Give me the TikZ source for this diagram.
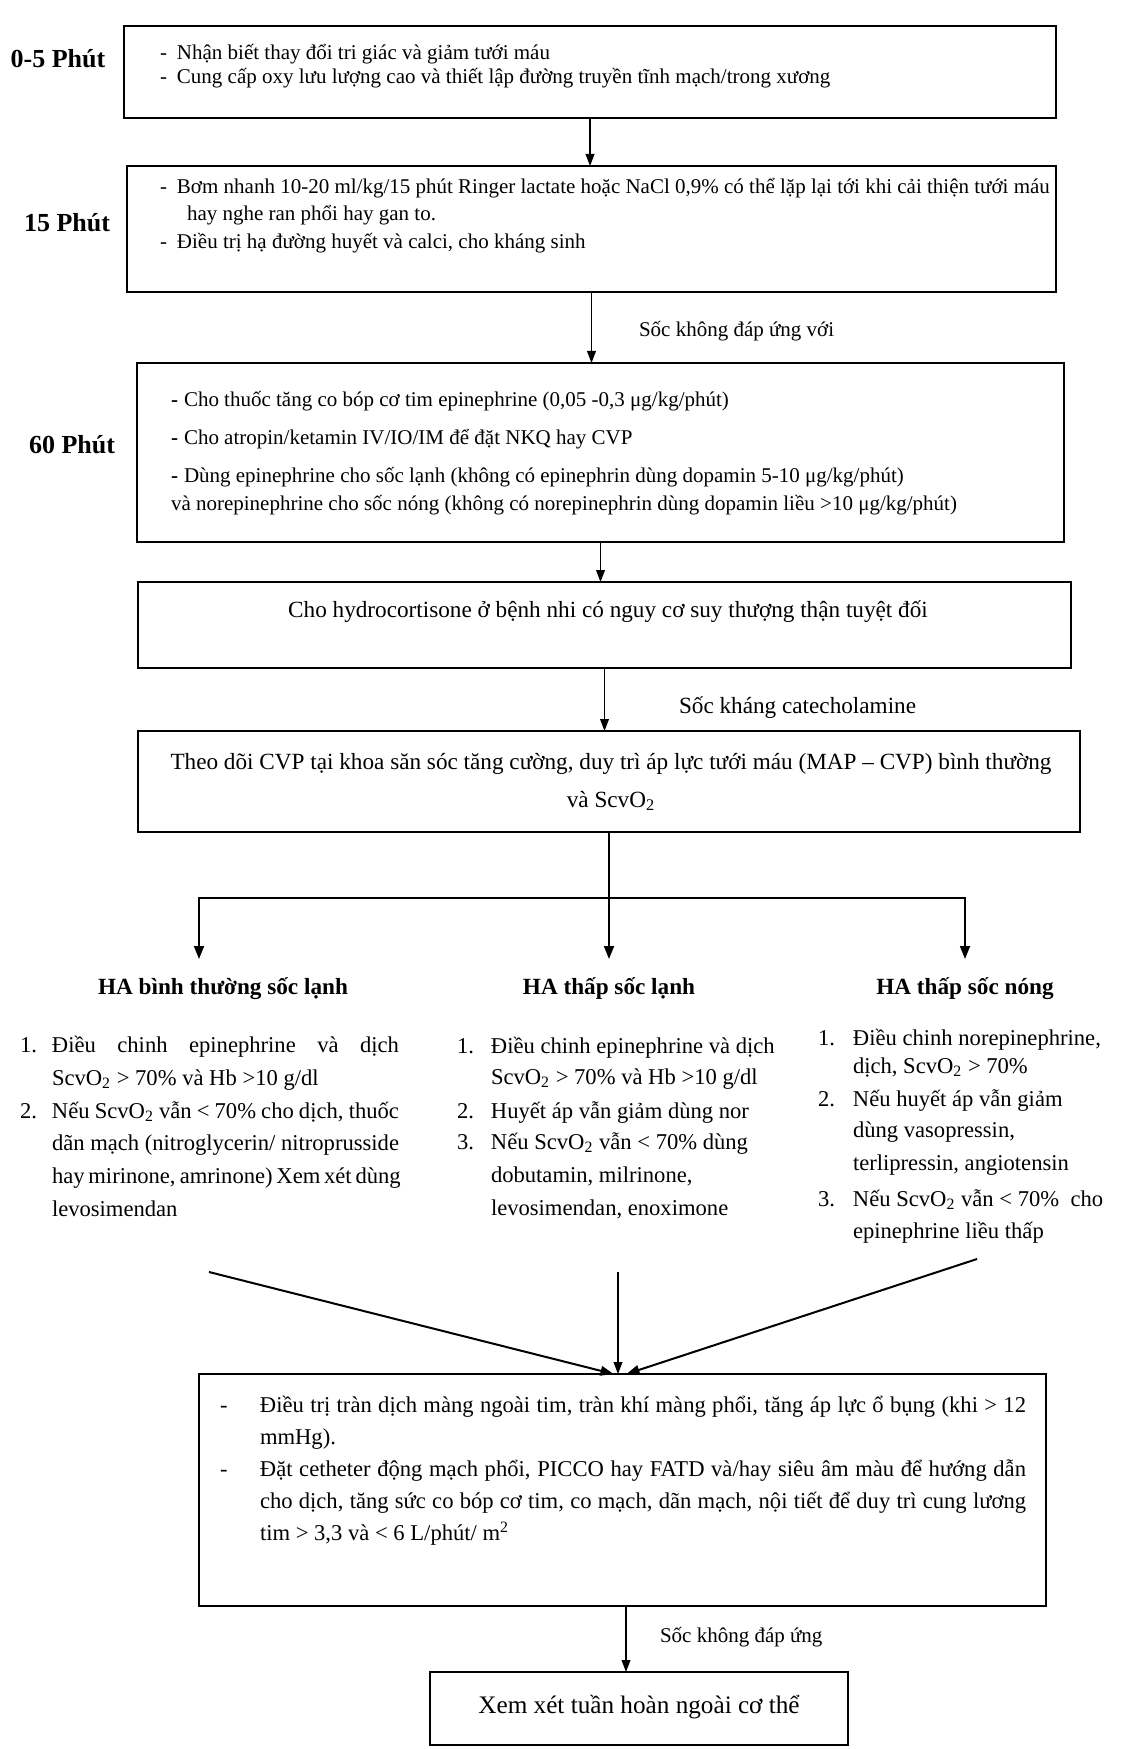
\documentclass[tikz,border=0pt]{standalone}
\usepackage{fontspec}
\setmainfont{Liberation Serif}
\usetikzlibrary{arrows.meta,fit,calc}
\newcommand\scvo{ScvO\textsubscript{2}}
\begin{document}
\begin{tikzpicture}[x=0.5pt,y=-0.5pt,
  every node/.style={inner sep=0pt, outer sep=0pt},
  box/.style={draw, line width=1.1pt},
  lab/.style={font=\fontsize{13}{15}\selectfont\bfseries},
  sm/.style={font=\fontsize{10.5}{12}\selectfont, anchor=base west},
  md/.style={font=\fontsize{11.3}{13}\selectfont, anchor=base west},
  mdc/.style={font=\fontsize{11.6}{14}\selectfont},
  hd/.style={font=\fontsize{11.6}{14}\selectfont\bfseries, anchor=base},
  big/.style={font=\fontsize{12.6}{15}\selectfont},
  arr/.style={-{Triangle[length=6pt,width=4.4pt]}, line width=0.6pt},
  arrb/.style={{Triangle[length=6.5pt,width=5pt]}-{Triangle[length=6.5pt,width=5pt]}, line width=0.9pt},
  arrc/.style={-{Triangle[length=6.5pt,width=5pt]}, line width=0.9pt},
  arrm/.style={-{Triangle[length=6.5pt,width=4.8pt]}, line width=1pt}]
\fill[white] (0,0) rectangle (1120,1749);
\useasboundingbox (0,0) rectangle (1120,1749);

% time labels
\node[lab] (l1) at (58,59) {0-5 Phút};
\node[lab] (l2) at (67,223) {15 Phút};
\node[lab] (l3) at (72,445) {60 Phút};

% boxes
\node[box, fit={(124,26) (1056,118)}] (b1) {};
\node[box, fit={(127,166) (1056,292)}] (b2) {};
\node[box, fit={(137,363) (1064,542)}] (b3) {};
\node[box, fit={(138,582) (1071,668)}] (b4) {};
\node[box, fit={(138,731) (1080,832)}] (b5) {};
\node[box, fit={(199,1374) (1046,1606)}] (b6) {};
\node[box, fit={(430,1672) (848,1745)}] (b7) {};

% box 1
\node[sm] (t1a) at (160,60) {\makebox[8.5pt][l]{-}Nhận biết thay đổi tri giác và giảm tưới máu};
\node[sm] (t1b) at (160,84) {\makebox[8.5pt][l]{-}Cung cấp oxy lưu lượng cao và thiết lập đường truyền tĩnh mạch/trong xương};

% box 2
\node[sm] (t2a) at (160,194) {\makebox[8.5pt][l]{-}Bơm nhanh 10-20 ml/kg/15 phút Ringer lactate hoặc NaCl 0,9\% có thể lặp lại tới khi cải thiện tưới máu};
\node[sm] (t2b) at (187,221) {hay nghe ran phổi hay gan to.};
\node[sm] (t2c) at (160,249) {\makebox[8.5pt][l]{-}Điều trị hạ đường huyết và calci, cho kháng sinh};

% box 3
\node[sm] (t3a) at (171,407) {\makebox[6.5pt][l]{\textbf{-}}Cho thuốc tăng co bóp cơ tim epinephrine (0,05 -0,3 μg/kg/phút)};
\node[sm] (t3b) at (171,444) {\makebox[6.5pt][l]{\textbf{-}}Cho atropin/ketamin IV/IO/IM để đặt NKQ hay CVP};
\node[sm] (t3c) at (171,482) {\makebox[6.5pt][l]{\textbf{-}}Dùng epinephrine cho sốc lạnh (không có epinephrin dùng dopamin 5-10 μg/kg/phút)};
\node[sm] (t3d) at (171,510) {và norepinephrine cho sốc nóng (không có norepinephrin dùng dopamin liều >10 μg/kg/phút)};

% box 4
\node[mdc] (t4) at (608,612) {Cho hydrocortisone ở bệnh nhi có nguy cơ suy thượng thận tuyệt đối};

% box 5
\node[mdc, anchor=base] (t5a) at (611,769) {Theo dõi CVP tại khoa săn sóc tăng cường, duy trì áp lực tưới máu (MAP – CVP) bình thường};
\node[mdc, anchor=base] (t5b) at (611,807) {và \scvo};

% arrows between upper boxes
\draw[arr] (b1.south) -- (b1.south |- b2.north);
\draw[arr] (b2.south) -- (b2.south |- b3.north);
\draw[arr] (b3.south) -- (b3.south |- b4.north);
\draw[arr] (b4.south) -- (b4.south |- b5.north);
\node[sm] (s1) at (639,336) {Sốc không đáp ứng với};
\node[md, font=\fontsize{11.6}{14}\selectfont] (s2) at (679,713) {Sốc kháng catecholamine};

% branch
\coordinate (brL) at (199,898);
\coordinate (brR) at (965,898);
\coordinate (tipL) at (199,959);
\coordinate (tipR) at (965,959);
\coordinate (tipC) at (b5.south |- tipL);
\draw[arrb] (tipL) -- (brL) -- (brR) -- (tipR);
\draw[arrc] (b5.south) -- (tipC);

% headings
\node[hd] (h1) at (223,994) {HA bình thường sốc lạnh};
\node[hd] (h2) at (609,994) {HA thấp sốc lạnh};
\node[hd] (h3) at (965,994) {HA thấp sốc nóng};

% left column
\node[md] (c1a) at (20,1052) {\makebox[16pt][l]{1.}\makebox[173.5pt][s]{Điều chinh epinephrine và dịch}};
\node[md] (c1b) at (52,1085) {\scvo{} > 70\% và Hb >10 g/dl};
\node[md] (c1c) at (20,1118) {\makebox[16pt][l]{2.}\makebox[173.5pt][s]{Nếu \scvo{} vẫn < 70\% cho dịch, thuốc}};
\node[md] (c1d) at (52,1150) {\makebox[173.5pt][s]{dãn mạch (nitroglycerin/ nitroprusside}};
\node[md] (c1e) at (52,1183) {\makebox[173.5pt][s]{hay mirinone, amrinone) Xem xét dùng}};
\node[md] (c1f) at (52,1216) {levosimendan};

% centre column
\node[md] (c2a) at (457,1053) {\makebox[17pt][l]{1.}Điều chinh epinephrine và dịch};
\node[md] (c2b) at (491,1084) {\scvo{} > 70\% và Hb >10 g/dl};
\node[md] (c2c) at (457,1118) {\makebox[17pt][l]{2.}Huyết áp vẫn giảm dùng nor};
\node[md] (c2d) at (457,1149) {\makebox[17pt][l]{3.}Nếu \scvo{} vẫn < 70\% dùng};
\node[md] (c2e) at (491,1182) {dobutamin, milrinone,};
\node[md] (c2f) at (491,1215) {levosimendan, enoximone};

% right column
\node[md] (c3a) at (818,1045) {\makebox[17.5pt][l]{1.}Điều chinh norepinephrine,};
\node[md] (c3b) at (853,1073) {dịch, \scvo{} > 70\%};
\node[md] (c3c) at (818,1106) {\makebox[17.5pt][l]{2.}Nếu huyết áp vẫn giảm};
\node[md] (c3d) at (853,1137) {dùng vasopressin,};
\node[md] (c3e) at (853,1170) {terlipressin, angiotensin};
\node[md] (c3f) at (818,1206) {\makebox[17.5pt][l]{3.}Nếu \scvo{} vẫn < 70\%\ \ cho};
\node[md] (c3g) at (853,1238) {epinephrine liều thấp};

% merging arrows
\coordinate (m1s) at (209,1272);
\coordinate (m2s) at (618,1272);
\coordinate (m3s) at (977,1259);
\draw[arrm] (m1s) -- ($(b6.north)+(-9,0)$);
\draw[arr] (m2s) -- (m2s |- b6.north);
\draw[arrm] (m3s) -- ($(b6.north)+(4,0)$);

% box 6
\node[md] (t6a) at (220,1412) {\makebox[20pt][l]{-}\makebox[383pt][s]{Điều trị tràn dịch màng ngoài tim, tràn khí màng phổi, tăng áp lực ổ bụng (khi > 12}};
\node[md] (t6b) at (260,1444) {mmHg).};
\node[md] (t6c) at (220,1476) {\makebox[20pt][l]{-}\makebox[383pt][s]{Đặt cetheter động mạch phổi, PICCO hay FATD và/hay siêu âm màu để hướng dẫn}};
\node[md] (t6d) at (260,1508) {\makebox[383pt][s]{cho dịch, tăng sức co bóp cơ tim, co mạch, dãn mạch, nội tiết để duy trì cung lương}};
\node[md] (t6e) at (260,1540) {tim > 3,3 và < 6 L/phút/ m\textsuperscript{2}};

% last step
\coordinate (ax) at (626,0);
\draw[arr] (b6.south -| ax) -- (b7.north -| ax);
\node[sm] (s3) at (660,1642) {Sốc không đáp ứng};
\node[big] (t7) at (639,1707) {Xem xét tuần hoàn ngoài cơ thể};
\end{tikzpicture}
\end{document}
